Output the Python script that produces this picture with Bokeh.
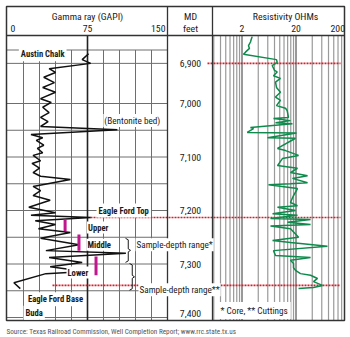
import math
from bokeh.plotting import figure
from bokeh.models import Range1d, LogScale
from bokeh.embed import file_html
from bokeh.resources import INLINE
from bokeh.core.properties import value

# ---------------- data ----------------
gamma_depth = [6907, 6918, 6925, 6935, 6942, 6951, 6961, 6970, 6979, 6991,
               6998, 7007, 7017, 7026, 7034, 7043, 7049, 7058, 7064, 7069,
               7078, 7084, 7092, 7097, 7107, 7112, 7121, 7129, 7136, 7142,
               7155, 7163, 7172, 7181, 7194, 7204, 7209, 7213, 7219, 7226,
               7234, 7241, 7252, 7264, 7275, 7280, 7288, 7297, 7305, 7314,
               7318, 7335, 7346]
gamma_api = [76, 70, 78, 39, 45, 34, 44, 33, 45, 31,
             41, 33, 39, 31, 38, 31, 103, 22, 33, 27,
             34, 28, 33, 24, 31, 23, 30, 24, 31, 59,
             24, 31, 24, 40, 20, 45, 22, 78, 26, 45,
             29, 59, 31, 67, 36, 111, 39, 70, 40, 73,
             36, 6, 12]

res_depth = [6875, 6880, 6885, 6892, 6897, 6904, 6908, 6918, 6923, 6929,
             6938, 6941, 6948, 6953, 6960, 6970, 6979, 6988, 6994, 7004,
             7009, 7013, 7026, 7028, 7032, 7036, 7038, 7045, 7047, 7054,
             7055, 7064, 7065, 7084, 7088, 7097, 7103, 7116, 7121, 7129,
             7135, 7140, 7148, 7150, 7152, 7159, 7172, 7185, 7191, 7194,
             7200, 7206, 7209, 7215, 7217, 7222, 7226, 7229, 7234, 7250,
             7256, 7260, 7267, 7275, 7284, 7288, 7293, 7299, 7307, 7312,
             7318, 7321, 7327, 7333, 7340, 7344, 7346]
res_ohm = [3.09, 2.97, 2.87, 2.64, 2.75, 2.32, 2.13, 8.7, 8.97, 7.25,
           8.0, 8.97, 7.66, 10.3, 8.35, 8.71, 10.3, 8.35, 10.3, 8.71,
           12.8, 13.7, 14.5, 7.66, 15.8, 8.35, 17.2, 2.87, 3.27, 2.5,
           20.4, 5.93, 19.6, 9.08, 12.8, 22.3, 11.2, 9.08, 21.3, 15.8,
           32.7, 17.2, 32.7, 15.8, 6.19, 21.3, 18.0, 15.8, 21.3, 9.08,
           19.6, 7.36, 21.3, 6.74, 37.2, 13.9, 37.2, 6.74, 15.8, 22.3,
           7.36, 15.8, 76.4, 7.66, 8.35, 37.2, 15.8, 18.0, 18.0, 19.6,
           24.2, 37.2, 50, 42.2, 61.8, 42.2, 22.3]

gamma_tick_values = [0, 75, 150]
gamma_tick_labels = ["0", "75", "150"]
gamma_tick_align = ["left", "center", "right"]
gamma_grid_api = [15, 30, 45, 60, 90, 105, 120, 135]
gamma_grid_depth = [6900, 6925, 7000, 7050, 7100, 7150, 7200, 7250, 7300, 7350, 7400]

res_tick_values = [2, 20, 200]
res_tick_labels = ["2", "20", "200"]
res_tick_align = ["center", "center", "right"]
res_grid_ohm = [0.6, 0.8, 1.0, 1.2, 1.4, 1.6, 1.8, 4, 6, 8, 10, 12, 14, 16, 18,
                40, 60, 80, 100, 120, 140]
res_major_ohm = [2, 20]

md_labels = ["6,900", "7,000", "7,100", "7,200", "7,300", "7,400"]
md_label_depth = [6925, 7000, 7100, 7200, 7300, 7392]

zone_names = ["Upper", "Middle", "Lower"]
zone_sample_api = [54, 67, 83]
zone_sample_top = [7217, 7245, 7286]
zone_sample_base = [7239, 7275, 7321]
zone_label_api = [85, 86, 66]
zone_label_depth = [7232, 7264, 7316]

formation_names = ["Austin Chalk", "Eagle Ford Top", "Eagle Ford Base", "Buda"]
formation_label_api = [33, 109, 45, 25]
formation_label_depth = [6908, 7200, 7366, 7391]

marker_depths = [6925, 7213, 7340]          # red dotted markers
core_range = [7252, 7297]
cuttings_range = [7299, 7349]

# ---------------- layout ----------------
W, H = 350, 337
X_L, X_G, X_R = 6, 167, 344
X_MD = 212
Y_T, Y_H, Y_B = 6, 35, 320
GX0, GPX = 7.0, 160.0 / 150.0
RX2, RDEC = 241.5, 54.0
DY0, DPX = 103.0, 0.535

def d_of(ypx):
    return 7000 + (ypx - DY0) / DPX

FONT = value("Roboto Condensed, Liberation Sans Narrow, Lato, sans-serif")
INK = "#1a1a1a"
RED = "#d0202c"
GREEN = "#0f8a4c"
MAGENTA = "#c0168e"
FS = "9.2px"
FSB = "8.6px"

p = figure(width=W, height=H, x_range=Range1d(0, W), y_range=Range1d(H, 0),
           x_axis_type=None, y_axis_type=None, output_backend="svg",
           toolbar_location=None, min_border=0, outline_line_color=None,
           background_fill_color="white", border_fill_color="white")
p.extra_x_ranges = {
    "g": Range1d((0 - GX0) / GPX, (W - GX0) / GPX),
    "r": Range1d(2 * 10 ** ((0 - RX2) / RDEC), 2 * 10 ** ((W - RX2) / RDEC)),
}
p.extra_x_scales = {"r": LogScale()}
p.extra_y_ranges = {"d": Range1d(d_of(H), d_of(0))}

d_head, d_bot = d_of(Y_H), d_of(Y_B)

# gamma grid
p.segment(x0=X_L, x1=X_G, y0=gamma_grid_depth, y1=gamma_grid_depth,
          y_range_name="d", line_color="#6e6e6e", line_width=1)
p.segment(x0=gamma_grid_api, x1=gamma_grid_api, y0=6900, y1=d_bot,
          x_range_name="g", y_range_name="d", line_color="#6e6e6e", line_width=1)
p.segment(x0=[75], x1=[75], y0=d_head, y1=d_bot,
          x_range_name="g", y_range_name="d", line_color="#222222", line_width=1.6)

# resistivity grid
p.segment(x0=res_grid_ohm, x1=res_grid_ohm, y0=d_head, y1=d_bot,
          x_range_name="r", y_range_name="d", line_color="#9a9a9a", line_width=1.2)
p.segment(x0=res_major_ohm, x1=res_major_ohm, y0=d_head, y1=d_bot,
          x_range_name="r", y_range_name="d", line_color="#555555", line_width=1.2)

# red dotted markers
p.segment(x0=[207, 90, 52], x1=[340, 340, 340], y0=marker_depths, y1=marker_depths,
          y_range_name="d", line_color=RED, line_width=1.6, line_dash="2 1")

# curves
p.line(gamma_api, gamma_depth, x_range_name="g", y_range_name="d",
       line_color="#111111", line_width=1.5)
p.line(res_ohm, res_depth, x_range_name="r", y_range_name="d",
       line_color=GREEN, line_width=1.5)

# sample bars
p.segment(x0=zone_sample_api, x1=zone_sample_api, y0=zone_sample_top, y1=zone_sample_base,
          x_range_name="g", y_range_name="d", line_color=MAGENTA, line_width=3)

# frame
p.quad(left=X_L, right=X_R, top=Y_T, bottom=Y_B, fill_color=None,
       line_color="#333333", line_width=1.5)
p.segment(x0=[X_L, X_G, X_MD], x1=[X_R, X_G, X_MD], y0=[Y_H, Y_T, Y_T], y1=[Y_H, Y_B, Y_B],
          line_color="#333333", line_width=1.3)

# braces
def brace(x0, top, bot, w=5):
    mid = (top + bot) / 2.0
    k = 1.5 / DPX
    xs = [x0, x0 + w * 0.55, x0 + w * 0.55, x0 + w, x0 + w * 0.55, x0 + w * 0.55, x0]
    ys = [top, top + k, mid - k, mid, mid + k, bot - k, bot]
    p.line(xs, ys, y_range_name="d", line_color=INK, line_width=1)

brace(125, core_range[0], core_range[1])
brace(129, cuttings_range[0], cuttings_range[1])

# header texts
p.text(x=[87, 190, 285, 190], y=[16, 16, 16, 28],
       text=["Gamma ray (GAPI)", "MD", "Resistivity OHMs", "feet"],
       text_font=FONT, text_font_size="9.8px", text_color=INK,
       text_align="center", text_baseline="middle")
p.text(x=gamma_tick_values, y=28, text=gamma_tick_labels, x_range_name="g",
       text_align=gamma_tick_align, x_offset=[3, 0, -2],
       text_font=FONT, text_font_size="9.8px", text_color=INK, text_baseline="middle")
p.text(x=res_tick_values, y=28, text=res_tick_labels, x_range_name="r",
       text_align=res_tick_align, x_offset=[0, 0, -5],
       text_font=FONT, text_font_size="9.8px", text_color=INK, text_baseline="middle")

# MD labels
p.text(x=190, y=md_label_depth, text=md_labels, y_range_name="d",
       text_font=FONT, text_font_size="9.8px", text_color=INK,
       text_align="center", text_baseline="middle",
       background_fill_color="white", padding=1)

# formation + zone labels
p.text(x=formation_label_api, y=formation_label_depth, text=formation_names,
       x_range_name="g", y_range_name="d", text_font=FONT, text_font_size=FSB,
       text_font_style="bold", text_color=INK, text_align="center", text_baseline="middle",
       background_fill_color="white", padding=2)
p.text(x=zone_label_api, y=zone_label_depth, text=zone_names,
       x_range_name="g", y_range_name="d", text_font=FONT, text_font_size=FSB,
       text_font_style="bold", text_color=INK, text_align="center", text_baseline="middle",
       background_fill_color="white", padding=1)
p.text(x=[117], y=[7032], text=["(Bentonite bed)"], x_range_name="g", y_range_name="d",
       text_font=FONT, text_font_size=FS, text_color=INK,
       text_align="center", text_baseline="middle", background_fill_color="white", padding=1)

# sample range notes
p.text(x=[135, 138], y=[7264, 7348], text=["Sample-depth range*", "Sample-depth range**"],
       y_range_name="d", text_font=FONT, text_font_size=FS, text_color=INK,
       text_align="left", text_baseline="middle", background_fill_color="white", padding=1)
p.text(x=[217], y=[7387], text=["* Core, ** Cuttings"], y_range_name="d",
       text_font=FONT, text_font_size=FS, text_color=INK,
       text_align="left", text_baseline="middle", background_fill_color="white", padding=3)

# source
p.text(x=[6], y=[331], text=["Source: Texas Railroad Commission, Well Completion Report; www.rrc.state.tx.us"],
       text_font=FONT, text_font_size="7.2px", text_color="#555555",
       text_align="left", text_baseline="middle")

open("out.html", "w").write(file_html(p, INLINE))
